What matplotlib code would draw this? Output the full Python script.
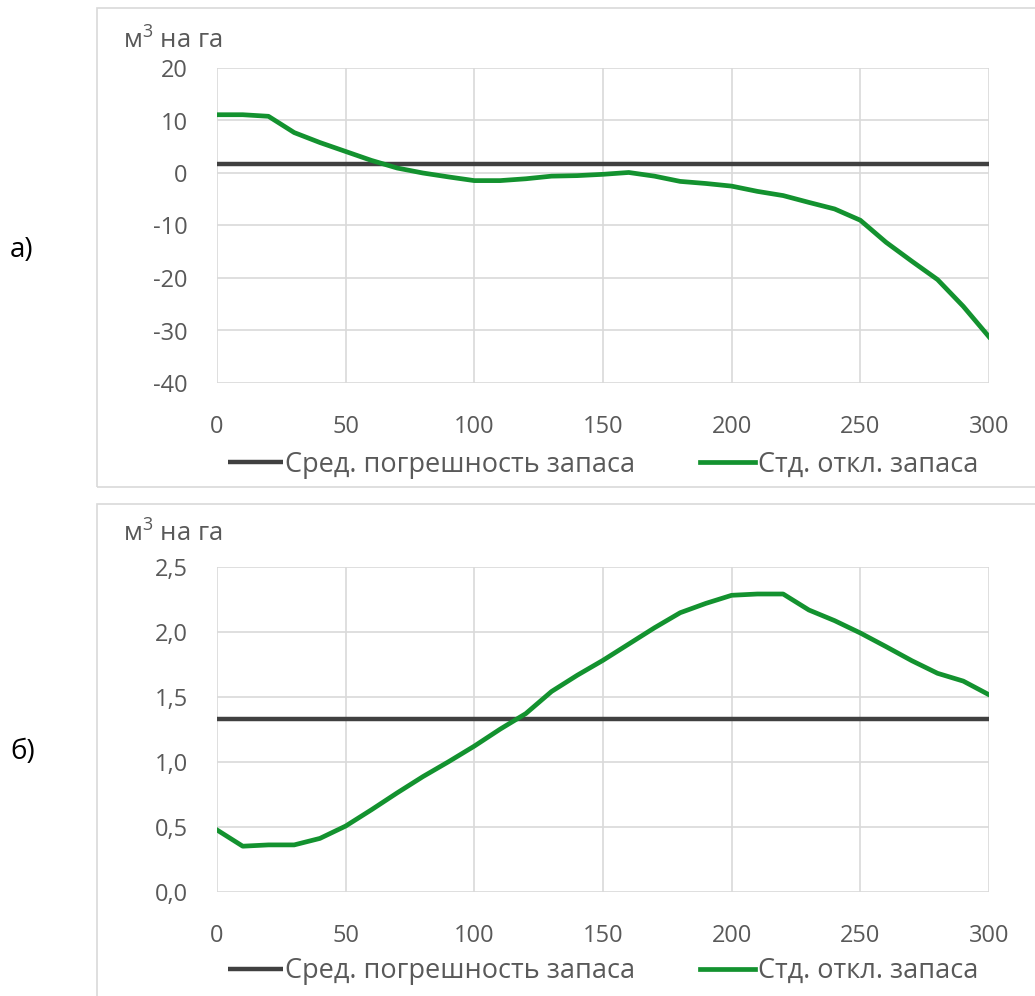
import matplotlib
matplotlib.use("Agg")
import matplotlib.pyplot as plt
from matplotlib.patches import Rectangle
from matplotlib.ticker import FuncFormatter

plt.rcParams['font.family'] = ['Open Sans', 'DejaVu Sans']
plt.rcParams['mathtext.fontset'] = 'custom'
plt.rcParams['mathtext.rm'] = 'Open Sans'
plt.rcParams['mathtext.it'] = 'Open Sans'

# ---- data ----
x_vals = list(range(0, 301, 10))
mean_err_a = 1.7
std_a = [11.1, 11.1, 10.8, 7.7, 5.8, 4.1, 2.4, 0.95, 0.0, -0.75, -1.45,
         -1.45, -1.1, -0.6, -0.5, -0.25, 0.1, -0.6, -1.6, -2.0, -2.5,
         -3.5, -4.3, -5.6, -6.85, -9.0, -13.2, -16.8, -20.3, -25.4, -31.2]
mean_err_b = 1.33
std_b = [0.475, 0.35, 0.36, 0.36, 0.41, 0.505, 0.63, 0.76, 0.885, 1.0, 1.12,
         1.25, 1.37, 1.54, 1.665, 1.78, 1.905, 2.03, 2.146, 2.218, 2.28,
         2.29, 2.29, 2.167, 2.085, 1.99, 1.885, 1.777, 1.68, 1.62, 1.515]
x_ticks = [0, 50, 100, 150, 200, 250, 300]
y_ticks_a = [-40, -30, -20, -10, 0, 10, 20]
y_ticks_b = [0.0, 0.5, 1.0, 1.5, 2.0, 2.5]
label_mean = "Сред. погрешность запаса"
label_std = "Стд. откл. запаса"
unit_label = r"м$^\mathregular{3}$ на га"
panel_labels = ["а)", "б)"]

W, H = 1035, 996
fig = plt.figure(figsize=(W / 100, H / 100), dpi=100)

GREEN = '#13922f'
DARK = '#404040'
GRID = '#d9d9d9'
TXT = '#595959'
FS = 17
LFS = 19.5


def px_axes(left, top, right, bottom):
    return fig.add_axes([left / W, 1 - bottom / H, (right - left) / W, (bottom - top) / H])


def frame(left, top, right, bottom):
    r = Rectangle((left / W, 1 - bottom / H), (right - left) / W, (bottom - top) / H,
                  transform=fig.transFigure, fill=False, edgecolor=GRID, linewidth=1.2)
    fig.patches.append(r)


def style(ax, yticks, ylim, fmt):
    ax.set_xlim(0, 300)
    ax.set_ylim(*ylim)
    ax.set_xticks(x_ticks)
    ax.set_yticks(yticks)
    ax.yaxis.set_major_formatter(FuncFormatter(fmt))
    ax.grid(True, color=GRID, linewidth=1.2)
    ax.set_axisbelow(True)
    for s in ax.spines.values():
        s.set_visible(False)
    ax.tick_params(axis='both', length=0, labelsize=FS, labelcolor=TXT)
    ax.tick_params(axis='x', pad=23)
    ax.tick_params(axis='y', pad=21)


def add_legend(ax, y):
    ax.legend(loc='center', bbox_to_anchor=(0.5, y), ncol=2, frameon=False,
              fontsize=LFS, labelcolor=TXT, handlelength=2.03, handletextpad=0.08,
              columnspacing=2.4)


# panel a
frame(97, 8, 1040, 487)
ax1 = px_axes(217, 68, 989, 383)
ax1.plot([0, 300], [mean_err_a, mean_err_a], color=DARK, lw=3.2, label=label_mean, solid_capstyle='butt')
ax1.plot(x_vals, std_a, color=GREEN, lw=3.4, label=label_std)
style(ax1, y_ticks_a, (-40, 20), lambda v, p: f"{v:.0f}")
add_legend(ax1, -0.26)
fig.text(123 / W, 1 - 41 / H, unit_label, fontsize=18.5, color=TXT, ha='left', va='center')
fig.text(10 / W, 1 - 250 / H, panel_labels[0], fontsize=20, color='black', ha='left', va='center')

# panel b
frame(97, 504, 1040, 1000)
ax2 = px_axes(217, 566.7, 989, 891.7)
ax2.plot([0, 300], [mean_err_b, mean_err_b], color=DARK, lw=3.2, label=label_mean, solid_capstyle='butt')
ax2.plot(x_vals, std_b, color=GREEN, lw=3.4, label=label_std)
style(ax2, y_ticks_b, (0, 2.5), lambda v, p: f"{v:.1f}".replace('.', ','))
add_legend(ax2, -0.245)
fig.text(123 / W, 1 - 534 / H, unit_label, fontsize=18.5, color=TXT, ha='left', va='center')
fig.text(10 / W, 1 - 752 / H, panel_labels[1], fontsize=20, color='black', ha='left', va='center')

fig.savefig("out.png", dpi=100)
